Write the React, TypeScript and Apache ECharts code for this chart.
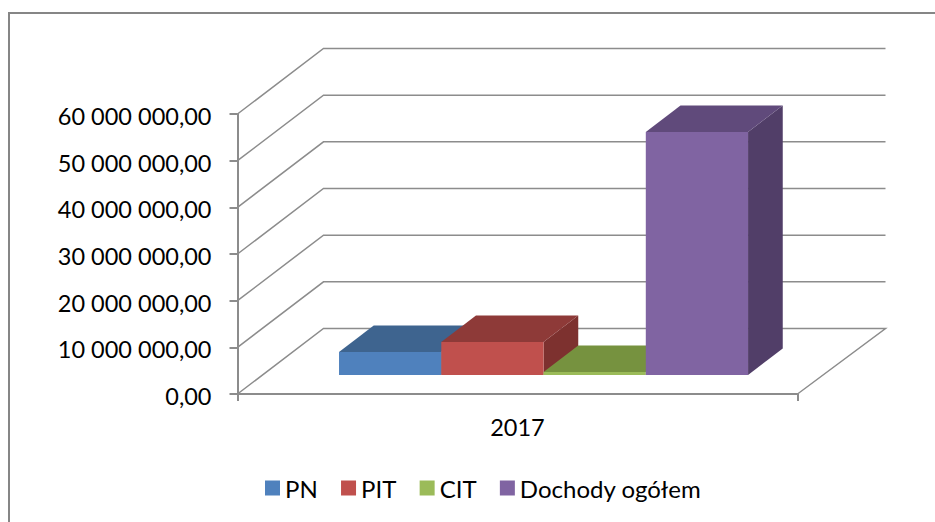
import React, { useEffect, useRef } from "react";
import * as echarts from "echarts";

const categories = ["2017"];
const yTicks = [0, 10000000, 20000000, 30000000, 40000000, 50000000, 60000000];
const seriesNames = ["PN", "PIT", "CIT", "Dochody ogółem"];
const pn = [4930000];
const pit = [7070000];
const cit = [640000];
const dochody = [52070000];
const seriesValues = [pn, pit, cit, dochody];
const frontColors = ["#4f81bd", "#c0504d", "#9bbb59", "#8064a2"];
const topColors = ["#3e648f", "#8e3a38", "#76923f", "#604a7b"];
const sideColors = ["#345577", "#7d312f", "#657d36", "#513e68"];

const FONT = "Lato, Carlito, Calibri, sans-serif";
const LINE = "#8c8c8c";

function formatPl(v: number) {
  const [i, d] = v.toFixed(2).split(".");
  return i.replace(/\B(?=(\d{3})+$)/g, " ") + "," + d;
}

function renderWall(_: any, api: any) {
  const p = api.coord([0, api.value(1)]);
  const band = api.size([1, 0])[0];
  const x0 = p[0] - band / 2;
  const x1 = p[0] + band / 2;
  const y = p[1];
  const isFloor = api.value(1) === 0;
  const pts: number[][] = [
    [x0, y],
    [x0 + 86, y - 65.5],
    [x1 + 88, y - 65.5],
  ];
  if (isFloor) pts.push([x1, y]);
  return {
    type: "polyline",
    silent: true,
    shape: { points: pts },
    style: { stroke: LINE, lineWidth: 1.5, fill: "none" },
  };
}

function renderBar(index: number) {
  return (_: any, api: any) => {
    const base = api.coord([0, 0]);
    const top = api.coord([0, api.value(1)]);
    const band = api.size([1, 0])[0];
    const w = band * 0.1826;
    const x = base[0] - band / 2 + band * 0.1813 + index * w;
    const y0 = base[1] - 19;
    const y1 = top[1] - 19;
    const dx = 34.7;
    const dy = -26.5;
    const poly = (points: number[][], fill: string) => ({
      type: "polygon",
      silent: true,
      shape: { points },
      style: { fill, stroke: "none" },
    });
    return {
      type: "group",
      children: [
        poly(
          [
            [x + w, y1],
            [x + w + dx, y1 + dy],
            [x + w + dx, y0 + dy],
            [x + w, y0],
          ],
          sideColors[index]
        ),
        poly(
          [
            [x, y1],
            [x + dx, y1 + dy],
            [x + w + dx, y1 + dy],
            [x + w, y1],
          ],
          topColors[index]
        ),
        poly(
          [
            [x, y0],
            [x, y1],
            [x + w, y1],
            [x + w, y0],
          ],
          frontColors[index]
        ),
      ],
    };
  };
}

export default function App() {
  const ref = useRef<HTMLDivElement>(null);
  useEffect(() => {
    const chart = echarts.init(ref.current!, null, { renderer: "svg" });
    chart.setOption({
      animation: false,
      backgroundColor: "#ffffff",
      textStyle: { fontFamily: FONT },
      graphic: [
        {
          type: "polyline",
          silent: true,
          z: -10,
          shape: { points: [[9, 522], [9, 13], [935, 13]] },
          style: { fill: "none", stroke: "#868686", lineWidth: 2 },
        },
      ],
      grid: { left: 237.5, right: 137.5, top: 114, bottom: 128 },
      legend: {
        data: seriesNames,
        left: 260,
        top: 471,
        itemWidth: 15,
        itemHeight: 15,
        itemGap: 23.3,
        icon: "rect",
        textStyle: { fontFamily: FONT, fontSize: 24, color: "#000" },
      },
      xAxis: {
        type: "category",
        data: categories,
        axisLine: { lineStyle: { color: LINE, width: 2 } },
        axisTick: { show: true, length: 7, lineStyle: { color: LINE, width: 2 }, alignWithLabel: false },
        axisLabel: { margin: 21, color: "#000", fontFamily: FONT, fontSize: 23.5 },
        splitLine: { show: false },
      },
      yAxis: {
        type: "value",
        min: 0,
        max: 60000000,
        interval: 10000000,
        axisLine: { show: true, lineStyle: { color: LINE, width: 2 } },
        axisTick: { show: true, length: 8, lineStyle: { color: LINE, width: 2 } },
        axisLabel: { margin: 26, color: "#000", fontFamily: FONT, fontSize: 23.5, verticalAlign: "top", lineHeight: 4, formatter: formatPl },
        splitLine: { show: false },
      },
      series: [
        {
          type: "custom",
          name: "walls",
          silent: true,
          clip: false,
          z: 1,
          renderItem: renderWall,
          encode: { x: 0, y: 1 },
          data: yTicks.map((v) => [0, v]),
        },
        ...seriesNames.map((name, i) => ({
          type: "custom",
          name,
          clip: false,
          z: 2 + i,
          silent: true,
          itemStyle: { color: frontColors[i] },
          renderItem: renderBar(i),
          encode: { x: 0, y: 1 },
          data: seriesValues[i].map((v, k) => [k, v]),
        })),
      ],
    });
    return () => chart.dispose();
  }, []);
  return (
    <div
      ref={ref}
      style={{ position: "absolute", left: 0, top: 0, width: 935, height: 522 }}
    />
  );
}
